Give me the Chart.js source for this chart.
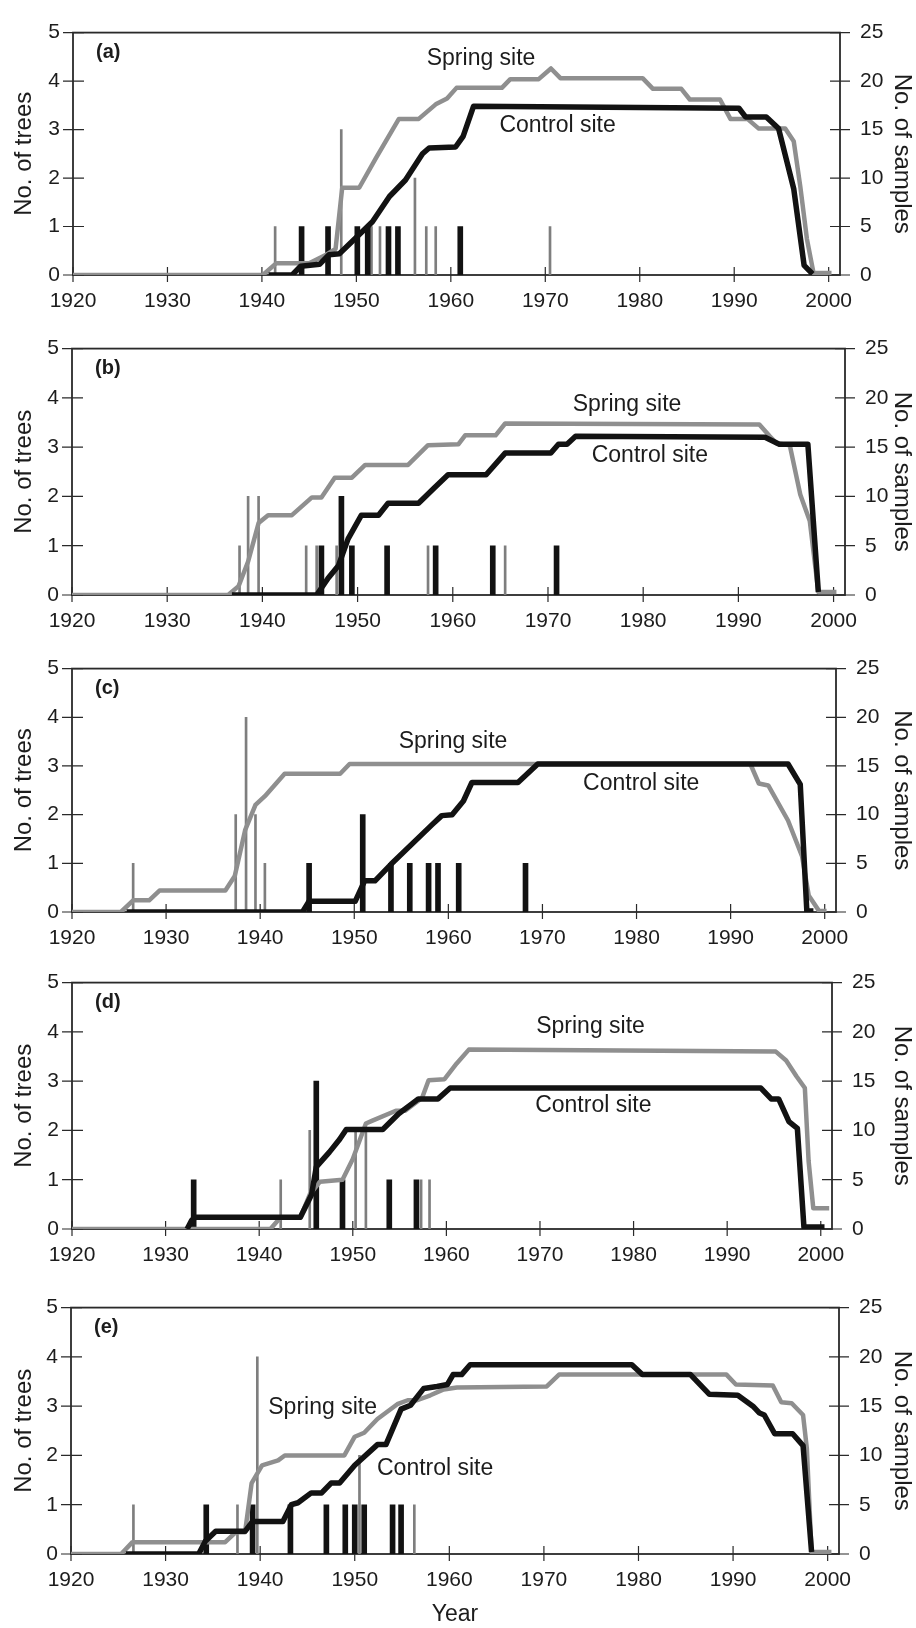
<!DOCTYPE html>
<html>
<head>
<title>Trees and samples, spring and control sites</title>
<script src="https://cdn.jsdelivr.net/npm/chart.js@4.4.1/dist/chart.umd.min.js"></script>
<style>
  body { margin: 0; background: #fff; }
  #wrap { position: relative; width: 916px; height: 1628px; }
  #wrap canvas { position: absolute; left: 0; }
</style>
</head>
<body>
<div id="wrap"></div>
<script>
// tick values
var yearTicks = [1920, 1930, 1940, 1950, 1960, 1970, 1980, 1990, 2000];
var treeTicks = [0, 1, 2, 3, 4, 5];
var sampleTicks = [0, 5, 10, 15, 20, 25];

// lines are [year, no. of samples], bars are [year, no. of trees]
// (a)
var springA = [[1920,0],[1940.1,0],[1941.5,1.2],[1945.0,1.2],[1946.8,2.1],[1947.8,2.7],[1948.5,9.0],[1950.3,9.0],[1952.1,12.1],[1954.5,16.1],[1956.6,16.1],[1958.4,17.6],[1959.6,18.2],[1960.6,19.3],[1965.4,19.3],[1966.3,20.2],[1969.3,20.2],[1970.6,21.3],[1971.6,20.3],[1980.3,20.3],[1981.4,19.2],[1984.4,19.2],[1985.3,18.1],[1988.5,18.1],[1989.6,16.1],[1991.4,16.1],[1992.6,15.1],[1995.4,15.1],[1996.3,13.8],[1997.0,9.1],[1997.7,3.7],[1998.4,0.2],[2000.3,0.2]];
var controlA = [[1940.7,0],[1943.2,0],[1944.1,0.9],[1946.1,1.1],[1947.1,2.1],[1948.2,2.2],[1949.9,3.8],[1951.7,5.5],[1953.5,8.1],[1955.2,9.8],[1957.0,12.5],[1957.7,13.1],[1960.5,13.2],[1961.3,14.3],[1962.4,17.4],[1990.5,17.2],[1991.2,16.3],[1993.4,16.3],[1994.7,15.1],[1996.3,8.9],[1997.4,1.0],[1998.3,0.1]];
var springBarsA = [[1941.4,1],[1948.4,3],[1951.6,1],[1952.5,1],[1956.2,2],[1957.4,1],[1958.4,1],[1970.5,1]];
var controlBarsA = [[1944.2,1],[1947.0,1],[1950.1,1],[1951.2,1],[1953.4,1],[1954.4,1],[1961.0,1]];

// (b)
var springB = [[1920,0],[1936.4,0],[1937.5,0.9],[1938.5,3.4],[1939.6,7.3],[1940.6,8.1],[1943.1,8.1],[1945.2,9.9],[1946.2,9.9],[1947.6,11.9],[1949.4,11.9],[1950.8,13.2],[1955.3,13.2],[1957.4,15.2],[1960.6,15.3],[1961.3,16.2],[1964.5,16.2],[1965.5,17.4],[1992.2,17.3],[1993.3,16.1],[1994.0,15.4],[1995.4,15.2],[1996.5,10.2],[1997.5,7.5],[1998.4,0.3],[2000.3,0.3]];
var controlB = [[1936.8,0],[1945.7,0],[1946.9,1.7],[1948.0,3.0],[1949.0,5.7],[1950.4,8.1],[1952.2,8.1],[1953.2,9.3],[1956.4,9.3],[1958.1,10.9],[1959.5,12.2],[1963.5,12.2],[1965.5,14.4],[1970.3,14.4],[1971.1,15.3],[1972.0,15.3],[1972.9,16.1],[1992.8,16.0],[1994.3,15.3],[1997.3,15.3],[1998.4,0.3]];
var springBarsB = [[1937.6,1],[1938.5,2],[1939.6,2],[1944.6,1],[1945.7,1],[1947.8,1],[1957.4,1],[1965.5,1]];
var controlBarsB = [[1946.2,1],[1948.3,2],[1949.4,1],[1953.1,1],[1958.2,1],[1964.2,1],[1970.9,1]];

// (c)
var springC = [[1920,0],[1925.2,0],[1926.5,1.2],[1928.2,1.2],[1929.3,2.2],[1936.3,2.2],[1937.3,3.7],[1938.4,8.4],[1939.5,11.0],[1940.5,11.9],[1942.6,14.2],[1948.5,14.2],[1949.5,15.2],[1992.1,15.2],[1993.0,13.2],[1994.0,13.0],[1996.1,9.4],[1997.6,5.7],[1998.3,1.7],[1999.4,0.1],[2000.2,0.1]];
var controlC = [[1925.8,0],[1944.5,0],[1945.2,1.1],[1950.1,1.1],[1951.1,3.2],[1952.2,3.2],[1953.9,4.9],[1958.3,9.0],[1959.3,9.9],[1960.4,10.0],[1961.6,11.4],[1962.5,13.3],[1967.4,13.3],[1969.5,15.2],[1996.1,15.2],[1997.4,13.1],[1998.1,0.1],[1998.8,0.1]];
var springBarsC = [[1926.5,1],[1937.4,2],[1938.5,4],[1939.5,2],[1940.5,1]];
var controlBarsC = [[1945.2,1],[1950.9,2],[1953.9,1],[1955.9,1],[1957.9,1],[1958.9,1],[1961.1,1],[1968.2,1]];

// (d)
var springD = [[1920,0],[1941.2,0],[1942.3,1.2],[1944.4,1.2],[1945.4,3.5],[1946.5,4.8],[1948.9,5.0],[1950.0,7.1],[1951.4,10.7],[1952.1,11.0],[1954.6,12.0],[1955.6,12.0],[1957.4,13.3],[1958.1,15.1],[1959.8,15.2],[1961.1,16.8],[1962.4,18.2],[1995.2,18.0],[1996.3,17.1],[1997.4,15.5],[1998.3,14.3],[1998.7,6.9],[1999.2,2.1],[2000.9,2.1]];
var controlD = [[1932.3,0],[1932.8,0.9],[1933.2,1.2],[1944.4,1.2],[1945.6,3.5],[1946.1,6.3],[1947.5,7.8],[1948.6,9.1],[1949.3,10.1],[1953.2,10.1],[1954.9,11.7],[1956.3,12.7],[1957.0,13.2],[1959.1,13.2],[1960.4,14.3],[1993.6,14.3],[1994.7,13.2],[1995.5,13.2],[1996.6,10.9],[1997.5,10.2],[1998.2,0.2],[2000.4,0.2]];
var springBarsD = [[1942.3,1],[1945.4,2],[1950.3,2],[1951.4,2],[1957.3,1],[1958.2,1]];
var controlBarsD = [[1933.0,1],[1946.1,3],[1948.9,1],[1953.9,1],[1956.8,1]];

// (e)
var springE = [[1920,0],[1925.3,0],[1926.5,1.2],[1936.3,1.2],[1937.4,2.2],[1938.4,2.2],[1939.1,7.2],[1940.2,9.0],[1941.9,9.5],[1942.6,10.0],[1948.9,10.0],[1950.0,11.9],[1951.0,12.3],[1952.4,13.7],[1954.5,15.2],[1955.6,15.6],[1956.6,15.6],[1958.0,16.1],[1959.4,16.7],[1960.8,16.9],[1970.3,17.0],[1971.6,18.2],[1989.3,18.2],[1990.3,17.2],[1994.2,17.1],[1995.1,15.4],[1996.2,15.3],[1997.4,14.1],[1997.8,10.7],[1998.3,0.2],[2000.4,0.2]];
var controlE = [[1925.8,0],[1933.5,0],[1934.2,1.3],[1935.3,2.3],[1938.4,2.3],[1939.2,3.3],[1942.4,3.3],[1943.3,5.0],[1944.0,5.2],[1945.4,6.2],[1946.5,6.2],[1947.5,7.2],[1948.4,7.2],[1950.0,9.0],[1952.4,11.1],[1953.3,11.1],[1954.9,14.7],[1955.9,15.1],[1957.3,16.8],[1958.7,17.0],[1959.8,17.2],[1960.4,18.2],[1961.3,18.2],[1962.2,19.2],[1979.3,19.2],[1980.4,18.2],[1985.5,18.2],[1987.5,16.2],[1990.5,16.1],[1992.1,15.0],[1992.8,14.3],[1993.3,14.1],[1994.4,12.2],[1996.3,12.2],[1997.4,11.0],[1998.3,0.2]];
var springBarsE = [[1926.6,1],[1937.6,1],[1939.7,4],[1950.5,2],[1956.3,1]];
var controlBarsE = [[1934.3,1],[1939.2,1],[1943.2,1],[1947.0,1],[1949.0,1],[1950.0,1],[1951.0,1],[1954.0,1],[1954.9,1]];

var FONT = "'Liberation Sans', Arial, sans-serif";
var INK = '#1c1c1c';
var GREY = '#8f8f8f';

// plot box of each panel on the page, and where its labels sit (year, samples)
var panels = [
  { tag: '(a)', spring: springA, control: controlA, springBars: springBarsA, controlBars: controlBarsA,
    box: { left: 73, right: 840, top: 26, bottom: 275 }, springAt: [1963.2, 22.3], controlAt: [1971.3, 15.4] },
  { tag: '(b)', spring: springB, control: controlB, springBars: springBarsB, controlBars: controlBarsB,
    box: { left: 72, right: 845, top: 342, bottom: 595 }, springAt: [1978.3, 19.3], controlAt: [1980.7, 14.1] },
  { tag: '(c)', spring: springC, control: controlC, springBars: springBarsC, controlBars: controlBarsC,
    box: { left: 72, right: 836, top: 662, bottom: 912 }, springAt: [1960.5, 17.5], controlAt: [1980.5, 13.2] },
  { tag: '(d)', spring: springD, control: controlD, springBars: springBarsD, controlBars: controlBarsD,
    box: { left: 72, right: 832, top: 976, bottom: 1229 }, springAt: [1975.4, 20.5], controlAt: [1975.7, 12.5] },
  { tag: '(e)', spring: springE, control: controlE, springBars: springBarsE, controlBars: controlBarsE,
    box: { left: 71, right: 839, top: 1301, bottom: 1554 }, springAt: [1946.6, 14.8], controlAt: [1958.5, 8.7] }
];

function pts(arr) {
  return arr.map(function(p) { return { x: p[0], y: p[1] }; });
}

var decorations = {
  id: 'decorations',
  beforeDatasetsDraw: function(chart) {
    var ctx = chart.ctx, a = chart.chartArea, s = chart.scales;
    ctx.save();
    ctx.strokeStyle = '#2a2a2a';
    ctx.lineWidth = 1.8;
    ctx.strokeRect(a.left, a.top, a.right - a.left, a.bottom - a.top);
    ctx.lineWidth = 1.2;
    ctx.beginPath();
    yearTicks.forEach(function(v) {
      var x = s.x.getPixelForValue(v);
      ctx.moveTo(x, a.bottom - 8); ctx.lineTo(x, a.bottom + 7);
    });
    treeTicks.forEach(function(v) {
      var y = s.y.getPixelForValue(v);
      ctx.moveTo(a.left - 10, y); ctx.lineTo(a.left + 11, y);
    });
    sampleTicks.forEach(function(v) {
      var y = s.y2.getPixelForValue(v);
      ctx.moveTo(a.right - 10, y); ctx.lineTo(a.right + 10, y);
    });
    ctx.stroke();
    ctx.restore();
  },
  afterDraw: function(chart, args, opts) {
    var ctx = chart.ctx, a = chart.chartArea, s = chart.scales;
    ctx.save();
    ctx.fillStyle = INK;
    ctx.textBaseline = 'middle';
    ctx.font = 'bold 20px ' + FONT;
    ctx.textAlign = 'left';
    ctx.fillText(opts.tag, a.left + 23, a.top + 20);
    ctx.font = '23px ' + FONT;
    ctx.textAlign = 'center';
    ctx.fillText('Spring site', s.x.getPixelForValue(opts.springAt[0]), s.y2.getPixelForValue(opts.springAt[1]));
    ctx.fillText('Control site', s.x.getPixelForValue(opts.controlAt[0]), s.y2.getPixelForValue(opts.controlAt[1]));
    ctx.restore();
  }
};

var wrap = document.getElementById('wrap');

panels.forEach(function(p, i) {
  var last = i === panels.length - 1;
  var padTop = 26;
  var canvasTop = p.box.top - padTop;
  var canvasH = last ? 1628 - canvasTop : (p.box.bottom - p.box.top) + padTop + 48;
  var xHeight = canvasH - padTop - (p.box.bottom - p.box.top);

  var canvas = document.createElement('canvas');
  canvas.width = 916;
  canvas.height = canvasH;
  canvas.style.top = canvasTop + 'px';
  wrap.appendChild(canvas);

  new Chart(canvas.getContext('2d'), {
    type: 'line',
    data: {
      datasets: [
        { type: 'line', label: 'Control site', data: pts(p.control), yAxisID: 'y2',
          borderColor: '#121212', borderWidth: 5.5, pointRadius: 0, tension: 0,
          borderJoinStyle: 'round', order: 0 },
        { type: 'line', label: 'Spring site', data: pts(p.spring), yAxisID: 'y2',
          borderColor: GREY, borderWidth: 4.5, pointRadius: 0, tension: 0,
          borderJoinStyle: 'round', order: 1 },
        { type: 'bar', label: 'Control trees', data: pts(p.controlBars), yAxisID: 'y',
          backgroundColor: '#121212', barThickness: 5, grouped: false, order: 2 },
        { type: 'bar', label: 'Spring trees', data: pts(p.springBars), yAxisID: 'y',
          backgroundColor: '#7e7e7e', barThickness: 2, grouped: false, order: 3 }
      ]
    },
    options: {
      responsive: false,
      animation: false,
      devicePixelRatio: 1,
      layout: { padding: { top: padTop, left: 0, right: 0, bottom: 0 } },
      plugins: {
        legend: { display: false },
        tooltip: { enabled: false },
        decorations: { tag: p.tag, springAt: p.springAt, controlAt: p.controlAt }
      },
      scales: {
        x: {
          type: 'linear', min: 1920, max: 2001.2, offset: false,
          grid: { display: false, drawTicks: false },
          border: { display: false },
          afterBuildTicks: function(s) { s.ticks = yearTicks.map(function(v) { return { value: v }; }); },
          afterFit: function(s) { s.height = xHeight; },
          ticks: { padding: 14, color: INK, autoSkip: false, maxRotation: 0,
                   font: { family: FONT, size: 21 }, callback: function(v) { return String(v); } },
          title: { display: last, text: 'Year', color: INK, font: { family: FONT, size: 23 },
                   padding: { top: 0, bottom: 0 } }
        },
        y: {
          position: 'left', min: 0, max: 5,
          grid: { display: false, drawTicks: false },
          border: { display: false },
          afterBuildTicks: function(s) { s.ticks = treeTicks.map(function(v) { return { value: v }; }); },
          afterFit: function(s) { s.width = p.box.left; },
          ticks: { padding: 13, color: INK, font: { family: FONT, size: 21 } },
          title: { display: true, text: 'No. of trees', color: INK, font: { family: FONT, size: 24 },
                   padding: { top: 10, bottom: 0 } }
        },
        y2: {
          position: 'right', min: 0, max: 25,
          grid: { display: false, drawTicks: false },
          border: { display: false },
          afterBuildTicks: function(s) { s.ticks = sampleTicks.map(function(v) { return { value: v }; }); },
          afterFit: function(s) { s.width = 916 - p.box.right; },
          ticks: { padding: 20, color: INK, font: { family: FONT, size: 21 } },
          title: { display: true, text: 'No. of samples', color: INK, font: { family: FONT, size: 24 },
                   padding: { top: 0, bottom: 0 } }
        }
      }
    },
    plugins: [decorations]
  });
});
</script>
</body>
</html>
